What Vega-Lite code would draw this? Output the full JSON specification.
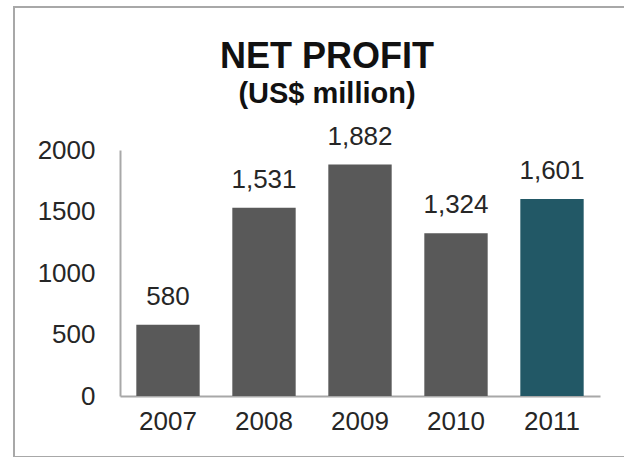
{
  "$schema": "https://vega.github.io/schema/vega-lite/v6.json",
  "autosize": "none",
  "padding": {"left": 14, "top": 7, "right": 0, "bottom": 0},
  "width": 630,
  "height": 450,
  "background": "white",
  "config": {
    "view": {"stroke": "#a8a8a8", "strokeWidth": 2},
    "font": "Liberation Sans"
  },
  "title": {
    "text": "NET PROFIT",
    "subtitle": "(US$ million)",
    "anchor": "middle",
    "frame": "group",
    "font": "Liberation Sans",
    "fontSize": 36,
    "fontWeight": "bold",
    "color": "#111111",
    "subtitleFont": "Liberation Sans",
    "subtitleFontSize": 29,
    "subtitleFontWeight": "bold",
    "subtitleColor": "#111111",
    "subtitlePadding": 4,
    "offset": -103,
    "dx": -2
  },
  "data": {
    "values": [
      {"year": "2007", "profit": 580},
      {"year": "2008", "profit": 1531},
      {"year": "2009", "profit": 1882},
      {"year": "2010", "profit": 1324},
      {"year": "2011", "profit": 1601}
    ]
  },
  "encoding": {
    "x": {
      "field": "year",
      "type": "nominal",
      "sort": null,
      "scale": {"range": [106, 586], "paddingInner": 0.34, "paddingOuter": 0.17},
      "axis": {
        "title": null,
        "labelAngle": 0,
        "labelFontSize": 26,
        "labelColor": "#262626",
        "labelPadding": 12,
        "ticks": false,
        "tickSize": 0,
        "domainColor": "#a8a8a8",
        "domainWidth": 2,
        "offset": -61
      }
    },
    "y": {
      "field": "profit",
      "type": "quantitative",
      "scale": {"domain": [0, 2000], "nice": false, "range": [389, 143]},
      "axis": {
        "title": null,
        "values": [0, 500, 1000, 1500, 2000],
        "format": "d",
        "labelFontSize": 26,
        "labelColor": "#262626",
        "labelPadding": 25,
        "ticks": false,
        "tickSize": 0,
        "grid": false,
        "domainColor": "#a8a8a8",
        "domainWidth": 2,
        "offset": -106
      }
    }
  },
  "layer": [
    {
      "mark": {"type": "bar"},
      "encoding": {
        "color": {
          "condition": {"test": "datum.year === '2011'", "value": "#225866"},
          "value": "#595959"
        }
      }
    },
    {
      "mark": {"type": "text", "baseline": "alphabetic", "dy": -20, "fontSize": 26, "color": "#262626"},
      "encoding": {
        "text": {"field": "profit", "type": "quantitative", "format": ","}
      }
    }
  ]
}
